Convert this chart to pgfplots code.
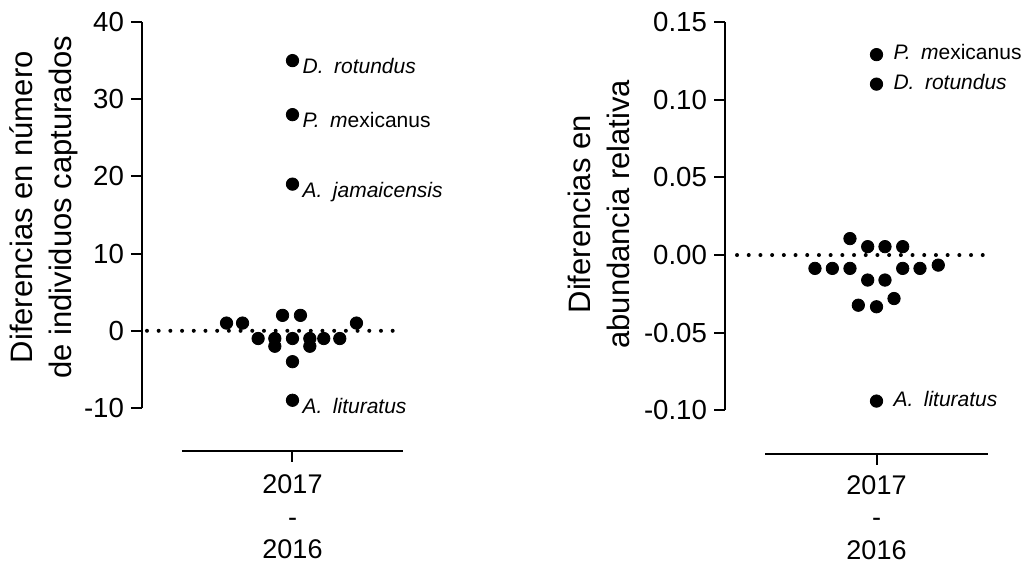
\documentclass[border=0pt]{standalone}
\usepackage{fontspec}
\setmainfont{Liberation Sans}
\usepackage{pgfplots}
\pgfplotsset{compat=1.18}

% shared look of both difference panels (1 px of the layout = 0.5pt)
\pgfplotsset{
  swarm/.style={
    scale only axis,
    clip=false,
    axis x line*=bottom,
    axis y line*=left,
    axis line style={line width=1pt, black},
    x axis line style={draw=none},
    axis x line shift=21.5pt,
    tick align=outside,
    major tick length=5.5pt,
    every tick/.style={line width=1pt, black},
    xmax=1,
    xtick={0},
    xticklabels={{2017\\-\\2016}},
    tick label style={font=\fontsize{13.8}{16.5}\selectfont},
    xticklabel style={align=center, font=\fontsize{13.5}{16.2}\selectfont, yshift=-3pt},
    yticklabel style={font=\fontsize{13.8}{16.5}\selectfont},
  },
  dots/.style={only marks, mark=*, mark size=3.1pt, black},
  zeroline/.style={black, line width=2pt, line cap=round,
    dash pattern=on 0pt off 5.85pt},
  species/.style={nodes near coords, point meta=explicit symbolic,
    every node near coord/.append style={inner sep=0pt,
      font=\fontsize{10.5}{12}\selectfont\itshape}},
  ylab/.style={every axis y label/.style={rotate=90, anchor=south, align=center,
    inner sep=0pt, font=\fontsize{15.5}{19.5}\selectfont, at={#1}}},
}

\begin{document}
\begin{tikzpicture}
\useasboundingbox (0,0) rectangle (512pt,283.5pt);

% ---- difference in number of captured individuals ----
\begin{axis}[swarm,
  at={(71pt,79.5pt)}, anchor=south west,
  width=130.5pt, height=193pt,
  xmin=-1.362,
  ymin=-10, ymax=40,
  ytick={-10,0,10,20,30,40},
  yticklabels={-10,0,10,20,30,40},
  ylab={(axis description cs:-0.245,0.52)},
  ylabel={Diferencias en número\\de individuos capturados},
]
\addplot[zeroline] coordinates {(-1.317,0) (1,0)};
\addplot[dots] coordinates {
  (-0.597,1) (-0.452,1) (-0.311,-1) (-0.160,-1) (-0.160,-2)
  (-0.090,2) (0.072,2) (0,-1) (0,-4) (0.157,-1) (0.157,-2)
  (0.283,-1) (0.428,-1) (0.579,1)
};
\addplot[dots, species,
  every node near coord/.append style={anchor=base west, xshift=4.85pt, yshift=-6.6pt}]
  coordinates {
  (0,35) [D.\hspace{0.5em}rotundus]
  (0,28) [{\textit{P.\hspace{0.5em}m}\upshape exicanus}]
  (0,19) [A.\hspace{0.5em}jamaicensis]
  (0,-9) [A.\hspace{0.5em}lituratus]
};
\draw[line width=1pt] ([yshift=-21.5pt]axis cs:-1,-10) -- ([yshift=-21.5pt]axis cs:1,-10);
\end{axis}

% ---- difference in relative abundance ----
\begin{axis}[swarm,
  at={(362.5pt,78.3pt)}, anchor=south west,
  width=131.5pt, height=194.2pt,
  axis x line shift=21.8pt,
  xticklabel style={yshift=1.2pt},
  xmin=-1.359,
  ymin=-0.10, ymax=0.15,
  ytick={-0.1,-0.05,0,0.05,0.1,0.15},
  yticklabels={-0.10,-0.05,0.00,0.05,0.10,0.15},
  ylab={(axis description cs:-0.361,0.505)},
  ylabel={Diferencias en\\abundancia relativa},
]
\addplot[zeroline] coordinates {(-1.251,0) (1,0)};
\addplot[dots] coordinates {
  (-0.238,0.0106) (-0.079,0.0054) (0.076,0.0054) (0.235,0.0054)
  (-0.552,-0.0086) (-0.396,-0.0086) (-0.238,-0.0086) (0.235,-0.0086)
  (0.390,-0.0086) (0.554,-0.0065) (-0.079,-0.0161) (0.076,-0.0161)
  (-0.163,-0.0323) (0,-0.0333) (0.157,-0.028)
};
\addplot[dots, species,
  every node near coord/.append style={anchor=base west, xshift=8.3pt, yshift=-2.6pt}]
  coordinates {
  (0,0.129) [{\textit{P.\hspace{0.5em}m}\upshape exicanus}]
  (0,0.110) [D.\hspace{0.5em}rotundus]
  (0,-0.094) [A.\hspace{0.5em}lituratus]
};
\draw[line width=1pt] ([yshift=-21.8pt]axis cs:-1,-0.10) -- ([yshift=-21.8pt]axis cs:1,-0.10);
\end{axis}
\end{tikzpicture}
\end{document}
